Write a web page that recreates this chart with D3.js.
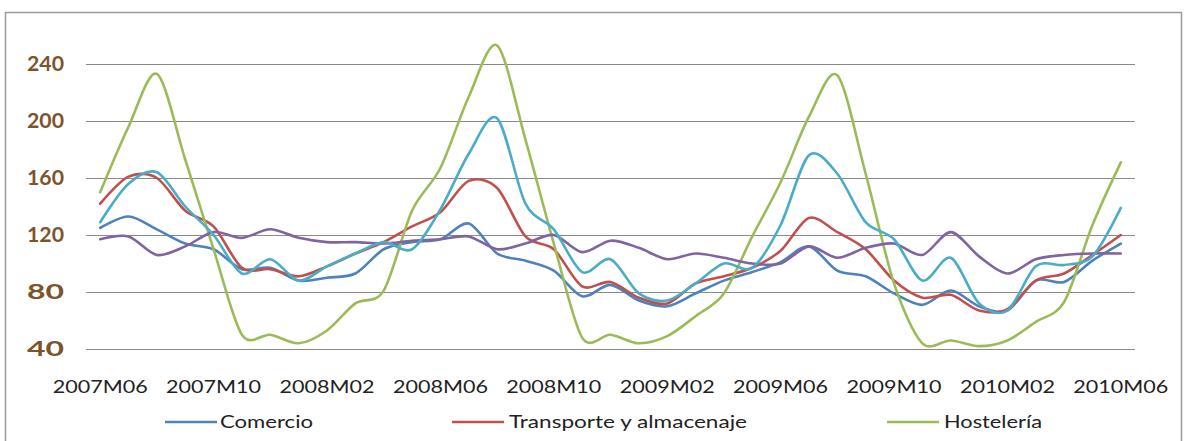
<!DOCTYPE html>
<html><head><meta charset="utf-8">
<script src="https://cdn.jsdelivr.net/npm/d3@7"></script>
<style>body{margin:0;background:#fff}svg{display:block}</style>
</head><body>
<svg id="c" width="1184" height="441"></svg>
<script>
const months = ["2007M06","2007M07","2007M08","2007M09","2007M10","2007M11","2007M12",
  "2008M01","2008M02","2008M03","2008M04","2008M05","2008M06","2008M07","2008M08","2008M09","2008M10","2008M11","2008M12",
  "2009M01","2009M02","2009M03","2009M04","2009M05","2009M06","2009M07","2009M08","2009M09","2009M10","2009M11","2009M12",
  "2010M01","2010M02","2010M03","2010M04","2010M05","2010M06"];
const tickLabels = ["2007M06","2007M10","2008M02","2008M06","2008M10","2009M02","2009M06","2009M10","2010M02","2010M06"];
const yTicks = [40, 80, 120, 160, 200, 240];

const comercio   = [125,133,124,114,110,96,97,88,90,93,110,115,117,128,107,102,95,77,85,74,70,79,88,94,101,112,95,91,79,71,81,70,67,88,87,102,114];
const transporte = [142,161,160,137,126,97,96,91,98,107,115,126,136,158,153,119,110,84,87,76,72,86,91,97,109,132,122,110,88,76,78,67,68,88,93,106,120];
const hosteleria = [150,196,233,173,110,50,50,44,53,72,81,137,167,217,253,187,114,48,50,44,49,63,79,119,157,203,232,163,86,44,46,42,46,59,73,127,171];
const seriePurpura = [117,119,106,112,122,118,124,118,115,115,114,116,117,119,110,114,120,108,116,111,103,107,104,100,100,112,104,111,114,106,122,105,93,103,106,107,107];
const serieCian    = [129,156,164,140,120,93,103,88,98,107,115,110,138,177,202,142,124,94,103,79,74,86,100,97,127,176,163,129,117,88,104,72,67,98,99,105,139];

const legendNames = ["Comercio", "Transporte y almacenaje", "Hostelería"];

const series = [
  {name: legendNames[0], values: comercio, color: "#4F81BD"},
  {name: legendNames[1], values: transporte, color: "#C0504D"},
  {name: legendNames[2], values: hosteleria, color: "#9BBB59"},
  {name: "purple", values: seriePurpura, color: "#8064A2"},
  {name: "cyan", values: serieCian, color: "#4BACC6"}
];

const svg = d3.select("#c");
const x = d3.scaleBand().domain(months).range([86, 1135]).padding(0);
const cx = d => x(d) + x.bandwidth() / 2;
const y = d3.scaleLinear().domain([40, 240]).range([349, 64]);

// frame
svg.append("rect").attr("x", 5.5).attr("y", 12.5).attr("width", 1176).attr("height", 440)
  .attr("fill", "none").attr("stroke", "#9a9a9a").attr("stroke-width", 1.5);

// gridlines
svg.append("g").selectAll("line").data(yTicks).join("line")
  .attr("x1", 86).attr("x2", 1135)
  .attr("y1", d => Math.round(y(d)) + 0.5).attr("y2", d => Math.round(y(d)) + 0.5)
  .attr("stroke", "#8a8a8a").attr("stroke-width", 1);

// y axis labels
const yAxis = d3.axisLeft(y).tickValues(yTicks).tickSize(0).tickPadding(0);
const gy = svg.append("g").attr("transform", "translate(64,0)").call(yAxis);
gy.select(".domain").remove();
gy.selectAll("text")
  .attr("font-family", "Lato, 'Open Sans', sans-serif").attr("font-size", 20).attr("font-weight", "bold")
  .attr("fill", "#7d532c").attr("textLength", 37).attr("lengthAdjust", "spacingAndGlyphs");

// x axis labels
const xAxis = d3.axisBottom(x).tickValues(tickLabels).tickSize(0).tickPadding(0);
const gx = svg.append("g").attr("transform", "translate(0,381)").call(xAxis);
gx.select(".domain").remove();
gx.selectAll("text")
  .attr("font-family", "Lato, 'Open Sans', sans-serif").attr("font-size", 17)
  .attr("fill", "#222").attr("textLength", 95).attr("lengthAdjust", "spacingAndGlyphs");

// lines
const line = d3.line().x((d, i) => cx(months[i])).y(d => y(d)).curve(d3.curveCardinal.tension(0.1));
svg.append("g").selectAll("path").data(series).join("path")
  .attr("d", s => line(s.values))
  .attr("fill", "none").attr("stroke", s => s.color).attr("stroke-width", 2.6)
  .attr("stroke-linejoin", "round").attr("stroke-linecap", "round");

// legend
const legendLayout = [
  {lx: 165, tx: 220, tw: 93},
  {lx: 452, tx: 509, tw: 238},
  {lx: 887, tx: 944, tw: 98}
];
const lg = svg.append("g").selectAll("g").data(series.slice(0, 3)).join("g");
lg.append("line")
  .attr("x1", (d, i) => legendLayout[i].lx).attr("x2", (d, i) => legendLayout[i].lx + 52)
  .attr("y1", 422).attr("y2", 422)
  .attr("stroke", d => d.color).attr("stroke-width", 2.6);
lg.append("text")
  .attr("x", (d, i) => legendLayout[i].tx).attr("y", 422).attr("dy", "0.35em")
  .attr("font-family", "Lato, 'Open Sans', sans-serif").attr("font-size", 18).attr("fill", "#222")
  .attr("textLength", (d, i) => legendLayout[i].tw).attr("lengthAdjust", "spacingAndGlyphs")
  .text(d => d.name);
</script>
</body></html>
